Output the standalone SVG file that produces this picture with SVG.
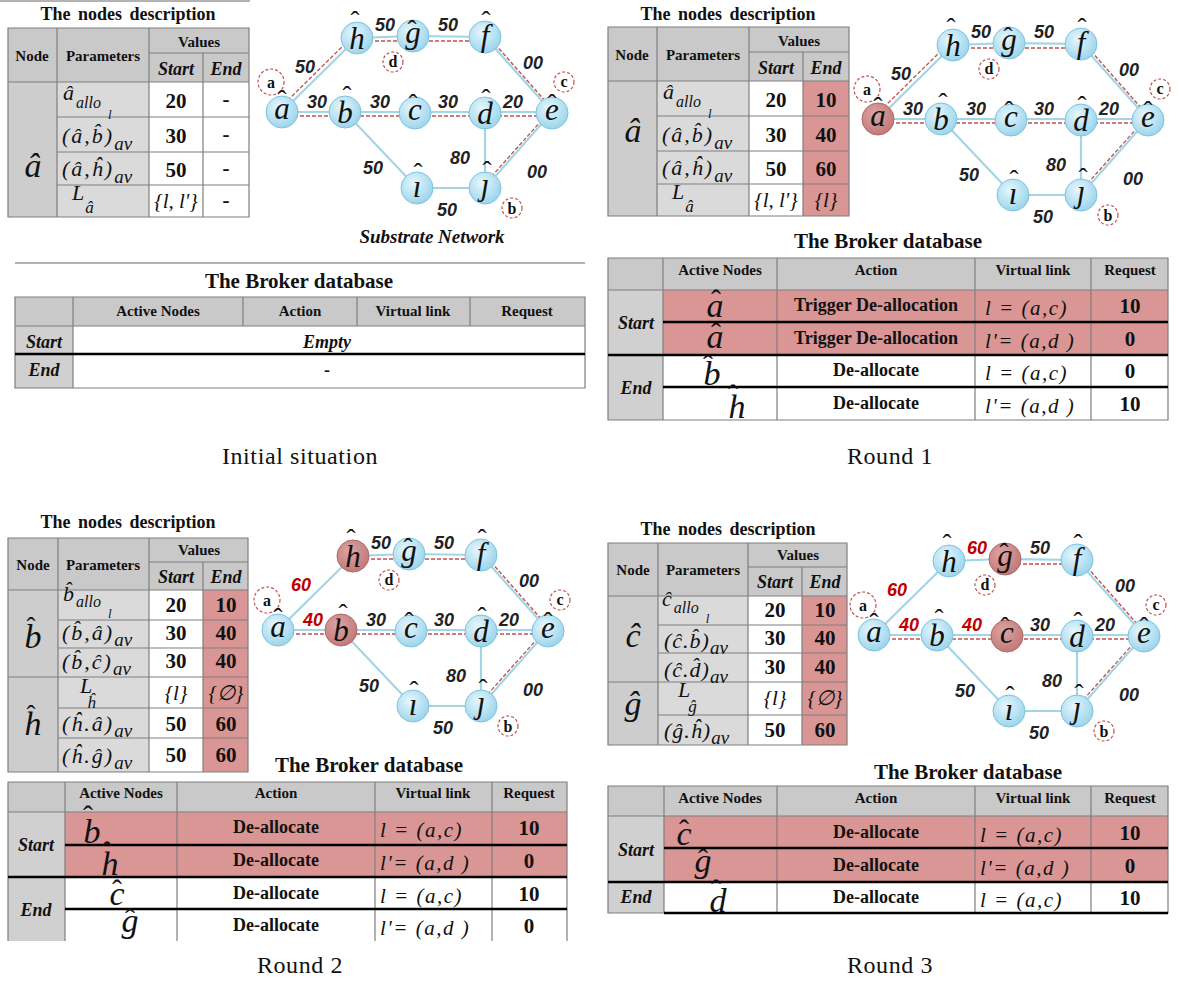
<svg xmlns="http://www.w3.org/2000/svg" width="1179" height="985" viewBox="0 0 1179 985">
<defs>
<radialGradient id="gb" cx="40%" cy="35%" r="65%"><stop offset="0" stop-color="#e6f7fd"/><stop offset="1" stop-color="#9dd5ec"/></radialGradient>
<radialGradient id="gr" cx="40%" cy="35%" r="65%"><stop offset="0" stop-color="#dba5a4"/><stop offset="1" stop-color="#c27a79"/></radialGradient>
<clipPath id="cp3"><rect x="0" y="770" width="600" height="171"/></clipPath>
</defs>
<style>
text{fill:#111}
.ttl{font:bold 18px "Liberation Serif",serif;text-anchor:middle;word-spacing:3px}
.hd{font:bold 15px "Liberation Serif",serif;text-anchor:middle}
.hdi{font:italic bold 18px "Liberation Serif",serif;text-anchor:middle}
.val{font:bold 21px "Liberation Serif",serif;text-anchor:middle}
.vi{font:italic 21px "Liberation Serif",serif;text-anchor:middle}
.it{font:italic 22px "Liberation Serif",serif}
.big{font:italic 34px "Liberation Serif",serif;text-anchor:middle}
.bhat{font:30px "Liberation Serif",serif;text-anchor:middle}
.nl{font:italic 31px "Liberation Serif",serif;text-anchor:middle}
.nh{font:27px "Liberation Serif",serif;text-anchor:middle}
.el{font:italic bold 18px "Liberation Sans",sans-serif;text-anchor:middle;fill:#222}
.el.red{fill:#c00000}
.dl{font:bold 16px "Liberation Serif",serif;text-anchor:middle}
.bt{font:bold 21px "Liberation Serif",serif;text-anchor:middle}
.bh{font:bold 15px "Liberation Serif",serif;text-anchor:middle}
.act{font:bold 18px "Liberation Serif",serif;text-anchor:middle}
.vl{font:italic 21px "Liberation Serif",serif;letter-spacing:1.5px}
.rq{font:bold 21px "Liberation Serif",serif;text-anchor:middle}
.se{font:italic bold 18px "Liberation Serif",serif;text-anchor:middle}
.cap{font:24px "Liberation Serif",serif;text-anchor:middle;letter-spacing:0.6px}
.grid{stroke:#7f7f7f;stroke-width:1.2;fill:none}
.thick{stroke:#000;stroke-width:2.5;fill:none}
.bl{stroke:#a3d5e5;stroke-width:2.2;fill:none}
.rd{stroke:#c0504d;stroke-width:1.3;stroke-dasharray:4 2;fill:none}
.dc{fill:none;stroke:#c0504d;stroke-width:1.2;stroke-dasharray:3 2}
.nb{fill:url(#gb);stroke:#7dc3df;stroke-width:1}
.nr{fill:url(#gr);stroke:#b06868;stroke-width:1}
.gh{fill:#c9c9c9}.gn{fill:#cdcdcd}.gp{fill:#dadada}.wh{fill:#fff}.rf{fill:#d99694}
</style>
<rect width="1179" height="985" fill="#fff"/>
<line x1="0" y1="1" x2="250" y2="1" stroke="#9a9a9a" stroke-width="1.5"/>

<!-- ================= PANEL 0: Initial situation ================= -->
<g id="table0">
<text class="ttl" x="128" y="20">The nodes description</text>
<rect class="gh" x="8" y="28" width="241" height="54"/>
<rect class="gn" x="8" y="82" width="49" height="135"/>
<rect class="gp" x="57" y="82" width="92" height="135"/>
<rect class="wh" x="149" y="82" width="100" height="135"/>
<path class="grid" d="M8,28H249V217H8Z M57,28V217 M149,28V217 M203,53V217 M149,53H249 M8,82H249 M57,117H249 M57,152H249 M57,185H249"/>
<text class="hd" x="32" y="61">Node</text>
<text class="hd" x="103" y="61">Parameters</text>
<text class="hd" x="199" y="47">Values</text>
<text class="hdi" x="176" y="75">Start</text>
<text class="hdi" x="226" y="75">End</text>
<text class="big" x="33" y="177">â</text>
<text class="it" x="63" y="100">â<tspan font-size="16" dx="2" dy="8">allo</tspan><tspan font-size="13" dx="7" dy="11">l</tspan></text>
<text class="it" x="62" y="143" letter-spacing="2">(â,b̂)<tspan font-size="19" dy="7" letter-spacing="0">av</tspan></text>
<text class="it" x="62" y="176" letter-spacing="2">(â,ĥ)<tspan font-size="19" dy="7" letter-spacing="0">av</tspan></text>
<text class="it" x="72" y="200" font-size="20">L<tspan font-size="17" dx="1" dy="13">â</tspan></text>
<text class="val" x="176" y="108">20</text>
<text class="val" x="176" y="143">30</text>
<text class="val" x="176" y="177">50</text>
<text class="vi" x="176" y="208">{l, l'}</text>
<text class="val" x="226" y="106">-</text>
<text class="val" x="226" y="141">-</text>
<text class="val" x="226" y="175">-</text>
<text class="val" x="226" y="207">-</text>
</g>

<g id="net0">
<g id="links0">
<path class="bl" d="M282,112L357,38L413,36L485,37L552,112 M282,112H552 M345,112L417,188H485V113 M485,188L552,112"/>
<path class="rd" d="M279,109L354,35 M357,41H485 M487,35L554,111 M282,116H552 M550,111L483,186"/>
</g>
<g id="labels0">
<text class="el" x="305" y="73">50</text>
<text class="el" x="385" y="31">50</text>
<text class="el" x="448" y="31">50</text>
<text class="el" x="533" y="69">00</text>
<text class="el" x="317" y="108">30</text>
<text class="el" x="380" y="108">30</text>
<text class="el" x="448" y="108">30</text>
<text class="el" x="513" y="108">20</text>
<text class="el" x="373" y="174">50</text>
<text class="el" x="460" y="164">80</text>
<text class="el" x="537" y="178">00</text>
<text class="el" x="447" y="216">50</text>
</g>
<g id="marks0">
<circle class="dc" cx="271" cy="82" r="13"/><text class="dl" x="271" y="88">a</text>
<circle class="dc" cx="393" cy="62" r="10"/><text class="dl" x="393" y="67">d</text>
<circle class="dc" cx="564" cy="82" r="10"/><text class="dl" x="564" y="87">c</text>
<circle class="dc" cx="512" cy="208" r="10"/><text class="dl" x="512" y="214">b</text>
</g>
<g id="p0-a"><circle class="nb" cx="282" cy="112" r="16"/><text class="nh" x="282" y="109">ˆ</text><text class="nl" x="282" y="119">a</text></g>
<g id="p0-b"><circle class="nb" cx="345" cy="112" r="16"/><text class="nh" x="347" y="105">ˆ</text><text class="nl" x="345" y="123">b</text></g>
<g id="p0-c"><circle class="nb" cx="415" cy="113" r="16"/><text class="nh" x="413" y="113">ˆ</text><text class="nl" x="415" y="120">c</text></g>
<g id="p0-d"><circle class="nb" cx="485" cy="113" r="16"/><text class="nh" x="486" y="108">ˆ</text><text class="nl" x="485" y="124">d</text></g>
<g id="p0-e"><circle class="nb" cx="552" cy="113" r="16"/><text class="nh" x="552" y="113">ˆ</text><text class="nl" x="552" y="120">e</text></g>
<g id="p0-f"><circle class="nb" cx="485" cy="37" r="16"/><text class="nh" x="486" y="30">ˆ</text><text class="nl" x="485" y="46">f</text></g>
<g id="p0-g"><circle class="nb" cx="413" cy="36" r="16"/><text class="nh" x="412" y="39">ˆ</text><text class="nl" x="413" y="43">g</text></g>
<g id="p0-h"><circle class="nb" cx="357" cy="38" r="16"/><text class="nh" x="355" y="30">ˆ</text><text class="nl" x="357" y="49">h</text></g>
<g id="p0-i"><circle class="nb" cx="417" cy="188" r="16"/><text class="nh" x="418" y="182">ˆ</text><text class="nl" x="417" y="197">ı</text></g>
<g id="p0-j"><circle class="nb" cx="485" cy="188" r="16"/><text class="nh" x="487" y="180">ˆ</text><text class="nl" x="485" y="195">ȷ</text></g>
<text x="432" y="243" font-family="Liberation Serif, serif" font-size="19" font-weight="bold" font-style="italic" text-anchor="middle">Substrate Network</text>
</g>

<line x1="15" y1="263" x2="585" y2="263" stroke="#9a9a9a" stroke-width="1.5"/>

<g id="broker0">
<text class="bt" x="299" y="288">The Broker database</text>
<rect class="gh" x="15" y="297" width="570" height="29"/>
<rect fill="#d0d0d0" x="15" y="326" width="58" height="62"/>
<rect class="wh" x="73" y="326" width="512" height="62"/>
<path class="grid" d="M15,297H585V388H15Z M73,297V388 M243,297V326 M357,297V326 M470,297V326 M15,326H585"/>
<line class="thick" x1="15" y1="354" x2="585" y2="354"/>
<text class="bh" x="158" y="316">Active Nodes</text>
<text class="bh" x="300" y="316">Action</text>
<text class="bh" x="413" y="316">Virtual link</text>
<text class="bh" x="527" y="316">Request</text>
<text class="se" x="44" y="348">Start</text>
<text class="se" x="327" y="348">Empty</text>
<text class="se" x="44" y="376">End</text>
<text class="act" x="327" y="376">-</text>
</g>
<text class="cap" x="300" y="464">Initial situation</text>

<!-- ================= PANEL 1: Round 1 ================= -->
<g id="table1" transform="translate(600,-1)">
<text class="ttl" x="128" y="21">The nodes description</text>
<rect class="gh" x="8" y="28" width="241" height="54"/>
<rect class="gn" x="8" y="82" width="49" height="135"/>
<rect class="gp" x="57" y="82" width="92" height="135"/>
<rect class="wh" x="149" y="82" width="54" height="135"/>
<rect class="rf" x="203" y="82" width="46" height="135"/>
<path class="grid" d="M8,28H249V217H8Z M57,28V217 M149,28V217 M203,53V217 M149,53H249 M8,82H249 M57,117H249 M57,152H249 M57,185H249"/>
<text class="hd" x="32" y="61">Node</text>
<text class="hd" x="103" y="61">Parameters</text>
<text class="hd" x="199" y="47">Values</text>
<text class="hdi" x="176" y="75">Start</text>
<text class="hdi" x="226" y="75">End</text>
<text class="big" x="33" y="143">â</text>
<text class="it" x="63" y="100">â<tspan font-size="16" dx="2" dy="8">allo</tspan><tspan font-size="13" dx="7" dy="11">l</tspan></text>
<text class="it" x="62" y="143" letter-spacing="2">(â,b̂)<tspan font-size="19" dy="7" letter-spacing="0">av</tspan></text>
<text class="it" x="62" y="176" letter-spacing="2">(â,ĥ)<tspan font-size="19" dy="7" letter-spacing="0">av</tspan></text>
<text class="it" x="72" y="200" font-size="20">L<tspan font-size="17" dx="1" dy="13">â</tspan></text>
<text class="val" x="176" y="108">20</text>
<text class="val" x="176" y="143">30</text>
<text class="val" x="176" y="177">50</text>
<text class="vi" x="176" y="208">{l, l'}</text>
<text class="val" x="226" y="108">10</text>
<text class="val" x="226" y="143">40</text>
<text class="val" x="226" y="177">60</text>
<text class="vi" x="226" y="208">{l}</text>
</g>

<g id="net1" transform="translate(596,7)">
<g id="links1">
<path class="bl" d="M282,112L357,38L413,36L485,37L552,112 M282,112H552 M345,112L417,188H485V113 M485,188L552,112"/>
<path class="rd" d="M279,109L354,35 M357,41H485 M487,35L554,111 M282,116H552 M550,111L483,186"/>
</g>
<g id="labels1">
<text class="el" x="305" y="73">50</text>
<text class="el" x="385" y="31">50</text>
<text class="el" x="448" y="31">50</text>
<text class="el" x="533" y="69">00</text>
<text class="el" x="317" y="108">30</text>
<text class="el" x="380" y="108">30</text>
<text class="el" x="448" y="108">30</text>
<text class="el" x="513" y="108">20</text>
<text class="el" x="373" y="174">50</text>
<text class="el" x="460" y="164">80</text>
<text class="el" x="537" y="178">00</text>
<text class="el" x="447" y="216">50</text>
</g>
<g id="marks1">
<circle class="dc" cx="271" cy="82" r="13"/><text class="dl" x="271" y="88">a</text>
<circle class="dc" cx="393" cy="62" r="10"/><text class="dl" x="393" y="67">d</text>
<circle class="dc" cx="564" cy="82" r="10"/><text class="dl" x="564" y="87">c</text>
<circle class="dc" cx="512" cy="208" r="10"/><text class="dl" x="512" y="214">b</text>
</g>
<g id="p1-a"><circle class="nr" cx="282" cy="112" r="16"/><text class="nh" x="282" y="109">ˆ</text><text class="nl" x="282" y="119">a</text></g>
<g id="p1-b"><circle class="nb" cx="345" cy="112" r="16"/><text class="nh" x="347" y="105">ˆ</text><text class="nl" x="345" y="123">b</text></g>
<g id="p1-c"><circle class="nb" cx="415" cy="113" r="16"/><text class="nh" x="413" y="113">ˆ</text><text class="nl" x="415" y="120">c</text></g>
<g id="p1-d"><circle class="nb" cx="485" cy="113" r="16"/><text class="nh" x="486" y="108">ˆ</text><text class="nl" x="485" y="124">d</text></g>
<g id="p1-e"><circle class="nb" cx="552" cy="113" r="16"/><text class="nh" x="552" y="113">ˆ</text><text class="nl" x="552" y="120">e</text></g>
<g id="p1-f"><circle class="nb" cx="485" cy="37" r="16"/><text class="nh" x="486" y="30">ˆ</text><text class="nl" x="485" y="46">f</text></g>
<g id="p1-g"><circle class="nb" cx="413" cy="36" r="16"/><text class="nh" x="412" y="39">ˆ</text><text class="nl" x="413" y="43">g</text></g>
<g id="p1-h"><circle class="nb" cx="357" cy="38" r="16"/><text class="nh" x="355" y="30">ˆ</text><text class="nl" x="357" y="49">h</text></g>
<g id="p1-i"><circle class="nb" cx="417" cy="188" r="16"/><text class="nh" x="418" y="182">ˆ</text><text class="nl" x="417" y="197">ı</text></g>
<g id="p1-j"><circle class="nb" cx="485" cy="188" r="16"/><text class="nh" x="487" y="180">ˆ</text><text class="nl" x="485" y="195">ȷ</text></g>
</g>

<g id="broker1">
<text class="bt" x="888" y="248">The Broker database</text>
<rect class="gh" x="608" y="258" width="560" height="32"/>
<rect fill="#d0d0d0" x="608" y="290" width="55" height="130"/>
<rect class="rf" x="663" y="290" width="505" height="65"/>
<rect class="wh" x="663" y="355" width="505" height="65"/>
<path class="grid" d="M608,258H1168V420H608Z M663,258V420 M777,258V420 M975,258V420 M1091,258V420 M608,290H1168"/>
<path class="thick" d="M663,322H1168 M608,355H1168 M663,387H1168"/>
<text class="bh" x="720" y="275">Active Nodes</text>
<text class="bh" x="876" y="275">Action</text>
<text class="bh" x="1033" y="275">Virtual link</text>
<text class="bh" x="1130" y="275">Request</text>
<text class="se" x="636" y="329">Start</text>
<text class="se" x="636" y="394">End</text>
<text class="bhat" x="716" y="310">ˆ</text><text class="big" x="715" y="317">a</text>
<text class="bhat" x="716" y="343">ˆ</text><text class="big" x="715" y="348">a</text>
<text class="bhat" x="708" y="375">ˆ</text><text class="big" x="712" y="385">b</text>
<text class="bhat" x="733" y="405">ˆ</text><text class="big" x="737" y="418">h</text>
<text class="act" x="876" y="311">Trigger De-allocation</text>
<text class="act" x="876" y="344">Trigger De-allocation</text>
<text class="act" x="876" y="376">De-allocate</text>
<text class="act" x="876" y="409">De-allocate</text>
<text class="vl" x="985" y="315">l = (a,c)</text>
<text class="vl" x="985" y="348">l'= (a,d )</text>
<text class="vl" x="985" y="380">l = (a,c)</text>
<text class="vl" x="985" y="413">l'= (a,d )</text>
<text class="rq" x="1130" y="313">10</text>
<text class="rq" x="1130" y="346">0</text>
<text class="rq" x="1130" y="378">0</text>
<text class="rq" x="1130" y="411">10</text>
</g>
<text class="cap" x="890" y="464">Round 1</text>

<!-- ================= PANEL 2: Round 2 ================= -->
<g id="table2">
<text class="ttl" x="128" y="528">The nodes description</text>
<rect class="gh" x="8" y="538" width="240" height="52"/>
<rect class="gn" x="8" y="590" width="50" height="182"/>
<rect class="gp" x="58" y="590" width="91" height="182"/>
<rect class="wh" x="149" y="590" width="54" height="182"/>
<rect class="rf" x="203" y="590" width="45" height="182"/>
<path class="grid" d="M8,538H248V772H8Z M58,538V772 M149,538V772 M203,562V772 M149,562H248 M8,590H248 M58,620H248 M58,648H248 M8,677H248 M58,708H248 M58,738H248"/>
<text class="hd" x="33" y="570">Node</text>
<text class="hd" x="103" y="570">Parameters</text>
<text class="hd" x="199" y="555">Values</text>
<text class="hdi" x="176" y="583">Start</text>
<text class="hdi" x="226" y="583">End</text>
<text class="nh" x="31" y="636" font-size="30">ˆ</text><text class="big" x="33" y="648">b</text>
<text class="nh" x="31" y="724" font-size="30">ˆ</text><text class="big" x="33" y="735">h</text>
<text class="it" x="63" y="601">b̂<tspan font-size="16" dx="2" dy="6">allo</tspan><tspan font-size="13" dx="7" dy="11">l</tspan></text>
<text class="it" x="62" y="640" letter-spacing="2">(b̂,â)<tspan font-size="19" dy="6" letter-spacing="0">av</tspan></text>
<text class="it" x="62" y="669" letter-spacing="2">(b̂,ĉ)<tspan font-size="19" dy="6" letter-spacing="0">av</tspan></text>
<text class="it" x="80" y="693" font-size="20">L<tspan font-size="17" dx="-5" dy="15">ĥ</tspan></text>
<text class="it" x="62" y="731" letter-spacing="2">(ĥ.â)<tspan font-size="19" dy="6" letter-spacing="0">av</tspan></text>
<text class="it" x="62" y="763" letter-spacing="2">(ĥ.ĝ)<tspan font-size="19" dy="6" letter-spacing="0">av</tspan></text>
<text class="val" x="176" y="612">20</text><text class="val" x="226" y="612">10</text>
<text class="val" x="176" y="640">30</text><text class="val" x="226" y="640">40</text>
<text class="val" x="176" y="668">30</text><text class="val" x="226" y="668">40</text>
<text class="vi" x="176" y="700">{l}</text><text class="vi" x="226" y="700">{∅}</text>
<text class="val" x="176" y="731">50</text><text class="val" x="226" y="731">60</text>
<text class="val" x="176" y="762">50</text><text class="val" x="226" y="762">60</text>
</g>

<g id="net2" transform="translate(-4,518)">
<g id="links2">
<path class="bl" d="M282,112L357,38L413,36L485,37L552,112 M282,112H552 M345,112L417,188H485V113 M485,188L552,112"/>
<path class="rd" d="M357,41H485 M487,35L554,111 M282,116H552 M550,111L483,186"/>
</g>
<g id="labels2">
<text class="el red" x="305" y="73">60</text>
<text class="el" x="385" y="31">50</text>
<text class="el" x="448" y="31">50</text>
<text class="el" x="533" y="69">00</text>
<text class="el red" x="317" y="108">40</text>
<text class="el" x="380" y="108">30</text>
<text class="el" x="448" y="108">30</text>
<text class="el" x="513" y="108">20</text>
<text class="el" x="373" y="174">50</text>
<text class="el" x="460" y="164">80</text>
<text class="el" x="537" y="178">00</text>
<text class="el" x="447" y="216">50</text>
</g>
<g id="marks2">
<circle class="dc" cx="271" cy="82" r="13"/><text class="dl" x="271" y="88">a</text>
<circle class="dc" cx="393" cy="62" r="10"/><text class="dl" x="393" y="67">d</text>
<circle class="dc" cx="564" cy="82" r="10"/><text class="dl" x="564" y="87">c</text>
<circle class="dc" cx="512" cy="208" r="10"/><text class="dl" x="512" y="214">b</text>
</g>
<g id="p2-a"><circle class="nb" cx="282" cy="112" r="16"/><text class="nh" x="282" y="109">ˆ</text><text class="nl" x="282" y="119">a</text></g>
<g id="p2-b"><circle class="nr" cx="345" cy="112" r="16"/><text class="nh" x="347" y="105">ˆ</text><text class="nl" x="345" y="123">b</text></g>
<g id="p2-c"><circle class="nb" cx="415" cy="113" r="16"/><text class="nh" x="413" y="113">ˆ</text><text class="nl" x="415" y="120">c</text></g>
<g id="p2-d"><circle class="nb" cx="485" cy="113" r="16"/><text class="nh" x="486" y="108">ˆ</text><text class="nl" x="485" y="124">d</text></g>
<g id="p2-e"><circle class="nb" cx="552" cy="113" r="16"/><text class="nh" x="552" y="113">ˆ</text><text class="nl" x="552" y="120">e</text></g>
<g id="p2-f"><circle class="nb" cx="485" cy="37" r="16"/><text class="nh" x="486" y="30">ˆ</text><text class="nl" x="485" y="46">f</text></g>
<g id="p2-g"><circle class="nb" cx="413" cy="36" r="16"/><text class="nh" x="412" y="39">ˆ</text><text class="nl" x="413" y="43">g</text></g>
<g id="p2-h"><circle class="nr" cx="357" cy="38" r="16"/><text class="nh" x="355" y="30">ˆ</text><text class="nl" x="357" y="49">h</text></g>
<g id="p2-i"><circle class="nb" cx="417" cy="188" r="16"/><text class="nh" x="418" y="182">ˆ</text><text class="nl" x="417" y="197">ı</text></g>
<g id="p2-j"><circle class="nb" cx="485" cy="188" r="16"/><text class="nh" x="487" y="180">ˆ</text><text class="nl" x="485" y="195">ȷ</text></g>
</g>

<g id="broker2">
<text class="bt" x="369" y="772">The Broker database</text>
<g clip-path="url(#cp3)">
<rect class="gh" x="8" y="782" width="559" height="30"/>
<rect fill="#d0d0d0" x="8" y="812" width="57" height="130"/>
<rect class="rf" x="65" y="812" width="502" height="65"/>
<rect class="wh" x="65" y="877" width="502" height="65"/>
<path class="grid" d="M8,942V782H567V942 M65,782V942 M177,782V942 M375,782V942 M492,782V942 M8,812H567"/>
<path class="thick" d="M65,845H567 M8,877H567 M65,909H567"/>
<text class="bh" x="121" y="798">Active Nodes</text>
<text class="bh" x="276" y="798">Action</text>
<text class="bh" x="433" y="798">Virtual link</text>
<text class="bh" x="529" y="798">Request</text>
<text class="se" x="36" y="851">Start</text>
<text class="se" x="36" y="916">End</text>
<text class="bhat" x="88" y="826">ˆ</text><text class="big" x="92" y="843">b</text>
<text class="bhat" x="107" y="862">ˆ</text><text class="big" x="110" y="875">h</text>
<text class="bhat" x="117" y="900">ˆ</text><text class="big" x="117" y="905">c</text>
<text class="bhat" x="130" y="929">ˆ</text><text class="big" x="130" y="932">g</text>
<text class="act" x="276" y="833">De-allocate</text>
<text class="act" x="276" y="866">De-allocate</text>
<text class="act" x="276" y="899">De-allocate</text>
<text class="act" x="276" y="931">De-allocate</text>
<text class="vl" x="380" y="837">l = (a,c)</text>
<text class="vl" x="380" y="870">l'= (a,d )</text>
<text class="vl" x="380" y="903">l = (a,c)</text>
<text class="vl" x="380" y="935">l'= (a,d )</text>
<text class="rq" x="529" y="835">10</text>
<text class="rq" x="529" y="868">0</text>
<text class="rq" x="529" y="901">10</text>
<text class="rq" x="529" y="933">0</text>
</g>
</g>
<text class="cap" x="300" y="973">Round 2</text>

<!-- ================= PANEL 3: Round 3 ================= -->
<g id="table3">
<text class="ttl" x="728" y="535">The nodes description</text>
<rect class="gh" x="608" y="543" width="239" height="53"/>
<rect class="gn" x="608" y="596" width="50" height="149"/>
<rect class="gp" x="658" y="596" width="90" height="149"/>
<rect class="wh" x="748" y="596" width="54" height="149"/>
<rect class="rf" x="802" y="596" width="45" height="149"/>
<path class="grid" d="M608,543H847V745H608Z M658,543V745 M748,543V745 M802,567V745 M748,567H847 M608,596H847 M658,625H847 M658,653H847 M608,682H847 M658,715H847"/>
<text class="hd" x="633" y="575">Node</text>
<text class="hd" x="703" y="575">Parameters</text>
<text class="hd" x="798" y="560">Values</text>
<text class="hdi" x="775" y="588">Start</text>
<text class="hdi" x="825" y="588">End</text>
<text class="big" x="633" y="647">ĉ</text>
<text class="big" x="633" y="715">ĝ</text>
<text class="it" x="662" y="606">ĉ<tspan font-size="16" dx="2" dy="7">allo</tspan><tspan font-size="13" dx="7" dy="10">l</tspan></text>
<text class="it" x="664" y="648" letter-spacing="1">(ĉ.b̂)<tspan font-size="19" dy="6" letter-spacing="0">av</tspan></text>
<text class="it" x="664" y="677" letter-spacing="1">(ĉ.d̂)<tspan font-size="19" dy="6" letter-spacing="0">av</tspan></text>
<text class="it" x="678" y="697" font-size="20">L<tspan font-size="17" dx="-2" dy="15">ĝ</tspan></text>
<text class="it" x="664" y="738" letter-spacing="1">(ĝ.ĥ)<tspan font-size="19" dy="6" letter-spacing="0">av</tspan></text>
<text class="val" x="775" y="617">20</text><text class="val" x="825" y="617">10</text>
<text class="val" x="775" y="645">30</text><text class="val" x="825" y="645">40</text>
<text class="val" x="775" y="674">30</text><text class="val" x="825" y="674">40</text>
<text class="vi" x="775" y="705">{l}</text><text class="vi" x="825" y="705">{∅}</text>
<text class="val" x="775" y="737">50</text><text class="val" x="825" y="737">60</text>
</g>

<g id="net3" transform="translate(592,523)">
<g id="links3">
<path class="bl" d="M282,112L357,38L413,36L485,37L552,112 M282,112H552 M345,112L417,188H485V113 M485,188L552,112"/>
<path class="rd" d="M413,41H485 M487,35L554,111 M282,116H552 M550,111L483,186"/>
</g>
<g id="labels3">
<text class="el red" x="305" y="73">60</text>
<text class="el red" x="385" y="31">60</text>
<text class="el" x="448" y="31">50</text>
<text class="el" x="533" y="69">00</text>
<text class="el red" x="317" y="108">40</text>
<text class="el red" x="380" y="108">40</text>
<text class="el" x="448" y="108">30</text>
<text class="el" x="513" y="108">20</text>
<text class="el" x="373" y="174">50</text>
<text class="el" x="460" y="164">80</text>
<text class="el" x="537" y="178">00</text>
<text class="el" x="447" y="216">50</text>
</g>
<g id="marks3">
<circle class="dc" cx="271" cy="82" r="13"/><text class="dl" x="271" y="88">a</text>
<circle class="dc" cx="393" cy="62" r="10"/><text class="dl" x="393" y="67">d</text>
<circle class="dc" cx="564" cy="82" r="10"/><text class="dl" x="564" y="87">c</text>
<circle class="dc" cx="512" cy="208" r="10"/><text class="dl" x="512" y="214">b</text>
</g>
<g id="p3-a"><circle class="nb" cx="282" cy="112" r="16"/><text class="nh" x="282" y="109">ˆ</text><text class="nl" x="282" y="119">a</text></g>
<g id="p3-b"><circle class="nb" cx="345" cy="112" r="16"/><text class="nh" x="347" y="105">ˆ</text><text class="nl" x="345" y="123">b</text></g>
<g id="p3-c"><circle class="nr" cx="415" cy="113" r="16"/><text class="nh" x="413" y="113">ˆ</text><text class="nl" x="415" y="120">c</text></g>
<g id="p3-d"><circle class="nb" cx="485" cy="113" r="16"/><text class="nh" x="486" y="108">ˆ</text><text class="nl" x="485" y="124">d</text></g>
<g id="p3-e"><circle class="nb" cx="552" cy="113" r="16"/><text class="nh" x="552" y="113">ˆ</text><text class="nl" x="552" y="120">e</text></g>
<g id="p3-f"><circle class="nb" cx="485" cy="37" r="16"/><text class="nh" x="486" y="30">ˆ</text><text class="nl" x="485" y="46">f</text></g>
<g id="p3-g"><circle class="nr" cx="413" cy="36" r="16"/><text class="nh" x="412" y="39">ˆ</text><text class="nl" x="413" y="43">g</text></g>
<g id="p3-h"><circle class="nb" cx="357" cy="38" r="16"/><text class="nh" x="355" y="30">ˆ</text><text class="nl" x="357" y="49">h</text></g>
<g id="p3-i"><circle class="nb" cx="417" cy="188" r="16"/><text class="nh" x="418" y="182">ˆ</text><text class="nl" x="417" y="197">ı</text></g>
<g id="p3-j"><circle class="nb" cx="485" cy="188" r="16"/><text class="nh" x="487" y="180">ˆ</text><text class="nl" x="485" y="195">ȷ</text></g>
</g>

<g id="broker3">
<text class="bt" x="968" y="779">The Broker database</text>
<rect class="gh" x="608" y="786" width="560" height="30"/>
<rect fill="#d0d0d0" x="608" y="816" width="56" height="97"/>
<rect class="rf" x="664" y="816" width="504" height="66"/>
<rect class="wh" x="664" y="882" width="504" height="31"/>
<path class="grid" d="M608,786H1168V913H608Z M664,786V913 M777,786V913 M975,786V913 M1091,786V913 M608,816H1168"/>
<path class="thick" d="M664,848H1168 M608,882H1168 M664,913H1168"/>
<text class="bh" x="720" y="803">Active Nodes</text>
<text class="bh" x="876" y="803">Action</text>
<text class="bh" x="1033" y="803">Virtual link</text>
<text class="bh" x="1130" y="803">Request</text>
<text class="se" x="636" y="856">Start</text>
<text class="se" x="636" y="903">End</text>
<text class="bhat" x="684" y="840">ˆ</text><text class="big" x="684" y="845">c</text>
<text class="bhat" x="703" y="869">ˆ</text><text class="big" x="703" y="872">g</text>
<text class="bhat" x="716" y="900">ˆ</text><text class="big" x="718" y="912">d</text>
<text class="act" x="876" y="838">De-allocate</text>
<text class="act" x="876" y="871">De-allocate</text>
<text class="act" x="876" y="903">De-allocate</text>
<text class="vl" x="980" y="842">l = (a,c)</text>
<text class="vl" x="980" y="875">l'= (a,d )</text>
<text class="vl" x="980" y="907">l = (a,c)</text>
<text class="rq" x="1130" y="840">10</text>
<text class="rq" x="1130" y="873">0</text>
<text class="rq" x="1130" y="905">10</text>
</g>
<text class="cap" x="890" y="973">Round 3</text>
</svg>
